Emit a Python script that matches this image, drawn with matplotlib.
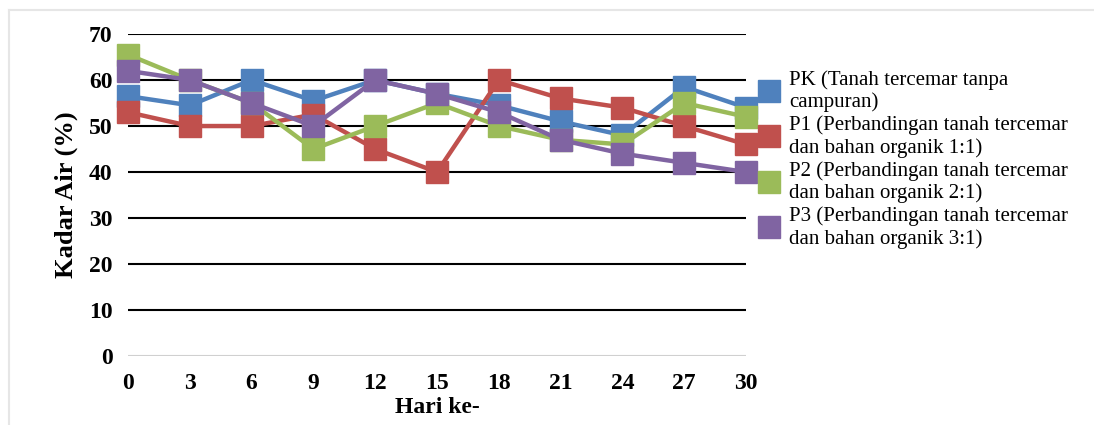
import numpy as np
import matplotlib.pyplot as plt
from matplotlib.lines import Line2D

plt.rcParams['font.family'] = ['Liberation Serif', 'DejaVu Serif']

hari = [0, 3, 6, 9, 12, 15, 18, 21, 24, 27, 30]
pk = [56.5, 54.5, 60, 55.5, 60, 57, 54.5, 51, 48, 58.5, 54]
p1 = [53, 50, 50, 52.5, 45, 40, 60, 56, 54, 50, 46]
p2 = [65.5, 60, 55, 45, 50, 55, 50, 47, 46, 55, 52]
p3 = [62, 60, 55, 50, 60, 57, 53, 47, 44, 42, 40]

labels = ['PK (Tanah tercemar tanpa\ncampuran)',
          'P1 (Perbandingan tanah tercemar\ndan bahan organik 1:1)',
          'P2 (Perbandingan tanah tercemar\ndan bahan organik 2:1)',
          'P3 (Perbandingan tanah tercemar\ndan bahan organik 3:1)']
warna = ['#4F81BD', '#C0504D', '#9BBB59', '#8064A2']

fig = plt.figure(figsize=(10.94, 4.25), dpi=100)
ax = fig.add_axes([0.117, 0.162, 0.565, 0.758])

for i, seri in enumerate([pk, p1, p2, p3]):
    ax.plot(hari, seri, color=warna[i], lw=3.2, marker='s', markersize=16,
            clip_on=False, zorder=3 + i)

ax.set_xlim(0, 30)
ax.set_ylim(0, 70)
ax.set_xticks(hari)
ax.set_yticks(range(0, 71, 10))
for y in range(10, 71, 10):
    ax.axhline(y, color='black', lw=1.5, zorder=1)
ax.axhline(0, color='#d0d0d0', lw=1.5, zorder=1)
for s in ax.spines.values():
    s.set_visible(False)
ax.tick_params(length=0, labelsize=17)
ax.tick_params(axis='x', pad=12)
ax.tick_params(axis='y', pad=11)
for t in ax.get_xticklabels() + ax.get_yticklabels():
    t.set_fontweight('bold')
ax.set_xlabel('Hari ke-', fontsize=17, fontweight='bold', labelpad=2)
ax.set_ylabel('Kadar Air (%)', fontsize=19, fontweight='bold', labelpad=8)

handles = [Line2D([], [], color=c, lw=3.2, marker='s', markersize=16) for c in warna]
fig.legend(handles, labels, loc='upper left', bbox_to_anchor=(0.688, 0.855),
           frameon=False, fontsize=15, handlelength=0.8, handletextpad=0.55,
           labelspacing=0.15, borderaxespad=0)

# bingkai tipis di kiri dan atas
fig.add_artist(Line2D([0.008, 0.008], [0, 0.976], color='#e6e6e6', lw=1.5))
fig.add_artist(Line2D([0.008, 1], [0.976, 0.976], color='#e6e6e6', lw=1.5))

fig.savefig('out.png', dpi=100)
